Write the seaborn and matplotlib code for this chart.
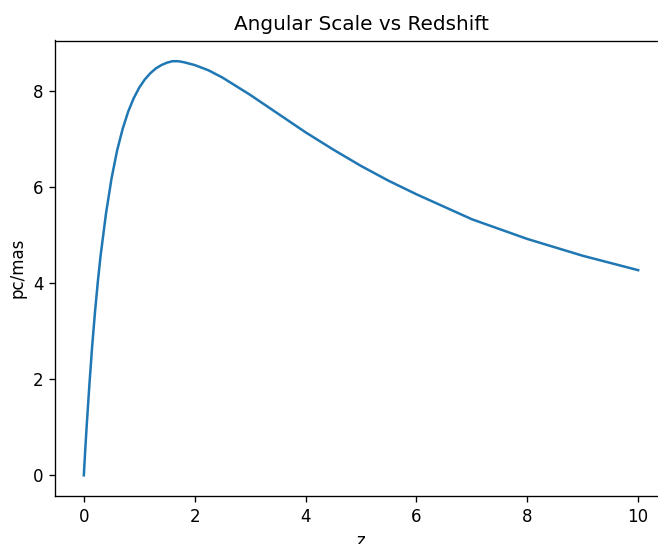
import matplotlib
matplotlib.use("Agg")
import matplotlib.pyplot as plt
import seaborn as sns
import pandas as pd

# Redshift samples and the corresponding angular scale (pc per milliarcsecond)
redshift = [0, 0.025, 0.05, 0.1, 0.15, 0.2, 0.25, 0.3, 0.4, 0.5, 0.6, 0.7,
            0.8, 0.9, 1.0, 1.1, 1.2, 1.3, 1.4, 1.5, 1.6, 1.7, 1.8, 2.0, 2.25,
            2.5, 3.0, 3.5, 4.0, 4.5, 5.0, 5.5, 6.0, 7.0, 8.0, 9.0, 10.0]
pc_per_mas = [0, 0.52, 1.0, 1.88, 2.68, 3.38, 4.0, 4.55, 5.45, 6.18, 6.76,
              7.21, 7.57, 7.85, 8.07, 8.24, 8.37, 8.47, 8.54, 8.59, 8.62,
              8.62, 8.60, 8.54, 8.43, 8.28, 7.92, 7.53, 7.14, 6.78, 6.44,
              6.13, 5.85, 5.33, 4.92, 4.57, 4.27]

df = pd.DataFrame({"z": redshift, "scale": pc_per_mas})

DPI = 120
fig = plt.figure(figsize=(658 / DPI, 544 / DPI), dpi=DPI)
# axes run slightly past the right edge of the canvas
ax = fig.add_axes([55 / 658, 48 / 544, 612 / 658, 455.5 / 544])

sns.lineplot(data=df, x="z", y="scale", ax=ax, color="#1f77b4", linewidth=1.5)

ax.set_xlim(-0.52, 10.52)
ax.set_xticks([0, 2, 4, 6, 8, 10])
ax.set_yticks([0, 2, 4, 6, 8])
ax.set_xlabel("z")
ax.set_ylabel("pc/mas")
ax.set_title("Angular Scale vs Redshift")

fig.savefig("out.png", dpi=DPI)
